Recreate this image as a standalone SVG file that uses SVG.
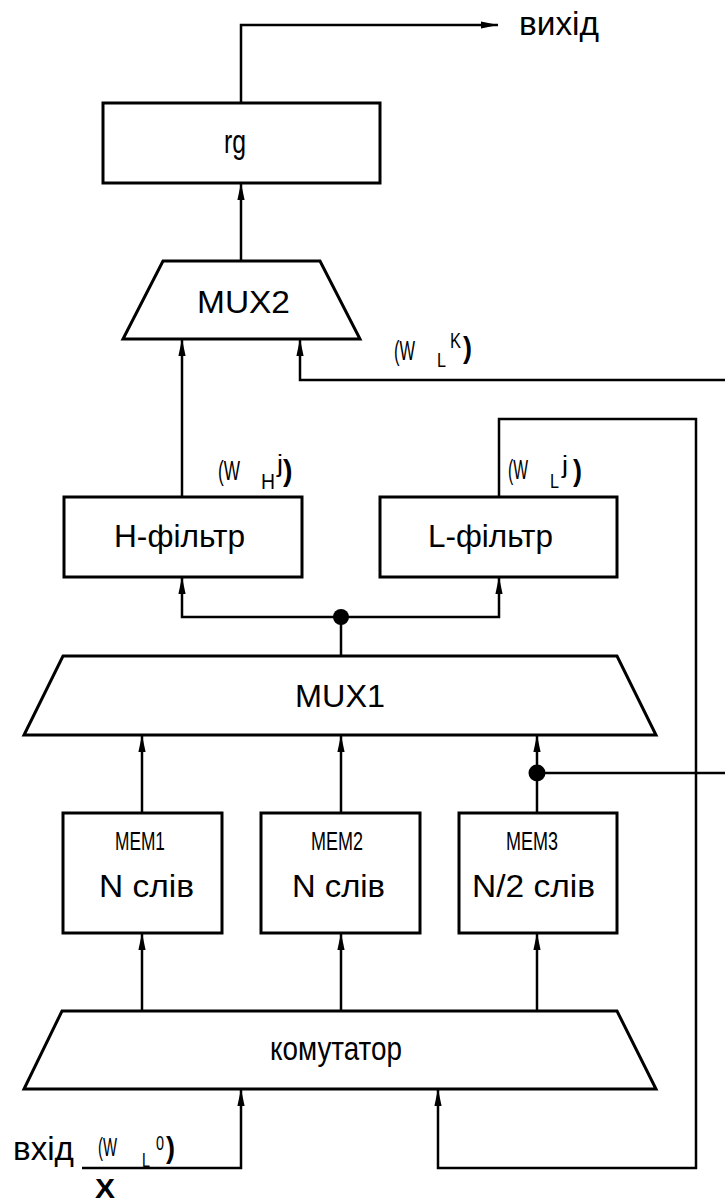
<svg xmlns="http://www.w3.org/2000/svg" width="725" height="1202" viewBox="0 0 725 1202">
<style>
.box{fill:#fff;stroke:#000;stroke-width:3}
.wire{fill:none;stroke:#000;stroke-width:2.5}
.t{font-family:"Liberation Sans",Arial,sans-serif;fill:#000}
.lbl{font-family:"Liberation Sans",Arial,sans-serif;fill:#000}
.par{font-family:"Liberation Sans",Arial,sans-serif;font-weight:bold;fill:#000}
</style>
<defs>
<marker id="ah" markerUnits="userSpaceOnUse" markerWidth="20" markerHeight="10" viewBox="-18 -5 20 10" refX="0" refY="0" orient="auto">
<path d="M0,0 L-17,-3.6 L-17,3.6 Z" fill="#000"/>
</marker>
</defs>
<rect width="725" height="1202" fill="#fff"/>

<g id="connectors">
<path class="wire" d="M241,103 V25 H498" marker-end="url(#ah)"/>
<path class="wire" d="M241,261 V183" marker-end="url(#ah)"/>
<path class="wire" d="M182,497 V339" marker-end="url(#ah)"/>
<path class="wire" d="M725,380 H300 V339" marker-end="url(#ah)"/>
<path class="wire" d="M499,497 V419 H696 V1168 H438 V1089" marker-end="url(#ah)"/>
<path class="wire" d="M341,656 V617"/>
<path class="wire" d="M341,617 H182 V577" marker-end="url(#ah)"/>
<path class="wire" d="M341,617 H499 V577" marker-end="url(#ah)"/>
<circle cx="341" cy="617" r="8" fill="#000"/>
<path class="wire" d="M142,813 V735" marker-end="url(#ah)"/>
<path class="wire" d="M341,813 V735" marker-end="url(#ah)"/>
<path class="wire" d="M537,813 V735" marker-end="url(#ah)"/>
<path class="wire" d="M537,773 H725"/>
<circle cx="537" cy="773" r="8.5" fill="#000"/>
<path class="wire" d="M142,1011 V933" marker-end="url(#ah)"/>
<path class="wire" d="M341,1011 V933" marker-end="url(#ah)"/>
<path class="wire" d="M537,1011 V933" marker-end="url(#ah)"/>
<path class="wire" d="M82,1168 H241 V1089" marker-end="url(#ah)"/>
</g>

<g id="rg">
<rect class="box" x="103" y="103" width="277" height="80"/>
<text class="t" x="224" y="153" font-size="33" textLength="22" lengthAdjust="spacingAndGlyphs">rg</text>
</g>

<g id="mux2">
<polygon class="box" points="163,261 320,261 360,339 123,339"/>
<text class="t" x="197" y="313" font-size="31" textLength="93" lengthAdjust="spacingAndGlyphs">MUX2</text>
</g>

<g id="h-filter">
<rect class="box" x="64" y="497" width="238" height="80"/>
<text class="t" x="114" y="547" font-size="32" textLength="131" lengthAdjust="spacingAndGlyphs">H-фільтр</text>
</g>

<g id="l-filter">
<rect class="box" x="380" y="497" width="237" height="80"/>
<text class="t" x="428" y="547" font-size="32" textLength="125" lengthAdjust="spacingAndGlyphs">L-фільтр</text>
</g>

<g id="mux1">
<polygon class="box" points="63,656 617,656 656,735 24,735"/>
<text class="t" x="295" y="707" font-size="32" textLength="90" lengthAdjust="spacingAndGlyphs">MUX1</text>
</g>

<g id="mem1">
<rect class="box" x="63" y="813" width="159" height="120"/>
<text class="t" x="115" y="850" font-size="26" textLength="50" lengthAdjust="spacingAndGlyphs">MEM1</text>
<text class="t" x="99" y="897" font-size="31" textLength="95" lengthAdjust="spacingAndGlyphs">N слів</text>
</g>

<g id="mem2">
<rect class="box" x="261" y="813" width="159" height="120"/>
<text class="t" x="311" y="850" font-size="26" textLength="52" lengthAdjust="spacingAndGlyphs">MEM2</text>
<text class="t" x="292" y="897" font-size="31" textLength="93" lengthAdjust="spacingAndGlyphs">N слів</text>
</g>

<g id="mem3">
<rect class="box" x="459" y="813" width="158" height="120"/>
<text class="t" x="506" y="850" font-size="26" textLength="52" lengthAdjust="spacingAndGlyphs">MEM3</text>
<text class="t" x="472" y="897" font-size="31" textLength="123" lengthAdjust="spacingAndGlyphs">N/2 слів</text>
</g>

<g id="komutator">
<polygon class="box" points="62,1011 617,1011 656,1089 24,1089"/>
<text class="t" x="270" y="1060" font-size="33" textLength="132" lengthAdjust="spacingAndGlyphs">комутатор</text>
</g>

<g id="labels">
<text class="t" x="519" y="35" font-size="34" textLength="80" lengthAdjust="spacingAndGlyphs">вихід</text>

<text class="lbl" x="394" y="360" font-size="27" textLength="21" lengthAdjust="spacingAndGlyphs">(W</text>
<text class="lbl" x="437" y="367" font-size="21" textLength="9" lengthAdjust="spacingAndGlyphs">L</text>
<text class="lbl" x="450" y="348" font-size="22" textLength="11" lengthAdjust="spacingAndGlyphs">K</text>
<text class="par" x="463" y="358" font-size="29" textLength="9" lengthAdjust="spacingAndGlyphs">)</text>

<text class="lbl" x="218" y="480" font-size="27" textLength="22" lengthAdjust="spacingAndGlyphs">(W</text>
<text class="lbl" x="261" y="489" font-size="22" textLength="14" lengthAdjust="spacingAndGlyphs">H</text>
<text class="lbl" x="277" y="472" font-size="23" textLength="6" lengthAdjust="spacingAndGlyphs">j</text>
<text class="par" x="283" y="481" font-size="29" textLength="9.5" lengthAdjust="spacingAndGlyphs">)</text>

<text class="lbl" x="508" y="479" font-size="27" textLength="20" lengthAdjust="spacingAndGlyphs">(W</text>
<text class="lbl" x="550" y="488" font-size="21" textLength="9" lengthAdjust="spacingAndGlyphs">L</text>
<text class="lbl" x="562" y="473" font-size="23" textLength="6" lengthAdjust="spacingAndGlyphs">j</text>
<text class="par" x="573" y="481" font-size="29" textLength="9" lengthAdjust="spacingAndGlyphs">)</text>

<text class="t" x="13" y="1160" font-size="33" textLength="61" lengthAdjust="spacingAndGlyphs">вхід</text>
<text class="lbl" x="98" y="1156" font-size="25" textLength="19" lengthAdjust="spacingAndGlyphs">(W</text>
<text class="lbl" x="142" y="1167" font-size="20" textLength="8" lengthAdjust="spacingAndGlyphs">L</text>
<text class="lbl" x="156" y="1150" font-size="20" textLength="8" lengthAdjust="spacingAndGlyphs">0</text>
<text class="par" x="166" y="1158" font-size="29" textLength="9" lengthAdjust="spacingAndGlyphs">)</text>
<text class="par" x="95" y="1198" font-size="28" textLength="20" lengthAdjust="spacingAndGlyphs">X</text>
</g>
</svg>
